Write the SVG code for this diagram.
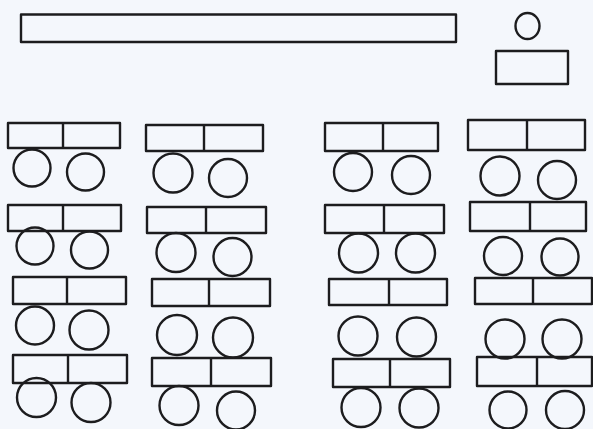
<svg xmlns="http://www.w3.org/2000/svg" width="593" height="429" viewBox="0 0 593 429">
<style>
.s{fill:none;stroke:#1c1c1e;stroke-width:2.4;stroke-linejoin:round}
</style>
<rect width="593" height="429" fill="#f4f7fc"/>
<g id="board"><rect class="s" x="21" y="14.5" width="435" height="27.5"/></g>
<g id="teacher"><ellipse class="s" cx="527.5" cy="26" rx="12" ry="13"/><rect class="s" x="496" y="51" width="72" height="33"/></g>
<g id="g1"><rect class="s" x="8" y="123" width="112" height="25"/><line class="s" x1="63" y1="123" x2="63" y2="148"/><circle class="s" cx="32" cy="168" r="18.5"/><circle class="s" cx="85.5" cy="172" r="18.5"/></g>
<g id="g2"><rect class="s" x="146" y="125" width="117" height="26"/><line class="s" x1="204" y1="125" x2="204" y2="151"/><circle class="s" cx="173" cy="173" r="19.5"/><circle class="s" cx="228" cy="178" r="19"/></g>
<g id="g3"><rect class="s" x="325" y="123" width="113" height="28"/><line class="s" x1="383" y1="123" x2="383" y2="151"/><circle class="s" cx="353" cy="172" r="19"/><circle class="s" cx="411" cy="175" r="19"/></g>
<g id="g4"><rect class="s" x="468" y="120" width="117" height="30"/><line class="s" x1="527" y1="120" x2="527" y2="150"/><circle class="s" cx="500" cy="176" r="19.5"/><circle class="s" cx="557" cy="180" r="19"/></g>
<g id="g5"><rect class="s" x="8" y="205" width="113" height="26"/><line class="s" x1="63" y1="205" x2="63" y2="231"/><circle class="s" cx="35" cy="246" r="18.5"/><circle class="s" cx="89.5" cy="250" r="18.5"/></g>
<g id="g6"><rect class="s" x="147" y="207" width="119" height="26"/><line class="s" x1="206" y1="207" x2="206" y2="233"/><circle class="s" cx="176" cy="252.5" r="19.5"/><circle class="s" cx="232.5" cy="257" r="19"/></g>
<g id="g7"><rect class="s" x="325" y="205" width="119" height="28"/><line class="s" x1="384" y1="205" x2="384" y2="233"/><circle class="s" cx="358.5" cy="253" r="19.5"/><circle class="s" cx="415.5" cy="253" r="19.5"/></g>
<g id="g8"><rect class="s" x="470" y="202" width="116" height="29"/><line class="s" x1="530" y1="202" x2="530" y2="231"/><circle class="s" cx="503" cy="256" r="19"/><circle class="s" cx="560" cy="257" r="18.5"/></g>
<g id="g9"><rect class="s" x="13" y="277" width="113" height="27"/><line class="s" x1="67" y1="277" x2="67" y2="304"/><circle class="s" cx="35" cy="325.5" r="19"/><circle class="s" cx="89" cy="330" r="19.5"/></g>
<g id="g10"><rect class="s" x="152" y="279" width="118" height="27"/><line class="s" x1="209" y1="279" x2="209" y2="306"/><circle class="s" cx="177" cy="335" r="20"/><circle class="s" cx="233" cy="337.5" r="20"/></g>
<g id="g11"><rect class="s" x="329" y="279" width="118" height="26"/><line class="s" x1="389" y1="279" x2="389" y2="305"/><circle class="s" cx="358" cy="336" r="19.5"/><circle class="s" cx="416.5" cy="337" r="19.5"/></g>
<g id="g12"><rect class="s" x="475" y="278" width="117" height="26"/><line class="s" x1="533" y1="278" x2="533" y2="304"/><circle class="s" cx="505" cy="339" r="19.5"/><circle class="s" cx="562" cy="339" r="19.5"/></g>
<g id="g13"><rect class="s" x="13" y="355" width="114" height="28"/><line class="s" x1="68" y1="355" x2="68" y2="383"/><circle class="s" cx="36.5" cy="397.5" r="19.5"/><circle class="s" cx="91" cy="402.5" r="19.5"/></g>
<g id="g14"><rect class="s" x="152" y="358" width="119" height="28"/><line class="s" x1="211" y1="358" x2="211" y2="386"/><circle class="s" cx="179" cy="405.5" r="19.5"/><circle class="s" cx="236" cy="410.5" r="19"/></g>
<g id="g15"><rect class="s" x="333" y="359" width="117" height="28"/><line class="s" x1="390" y1="359" x2="390" y2="387"/><circle class="s" cx="361" cy="407.5" r="19.5"/><circle class="s" cx="419" cy="408" r="19.5"/></g>
<g id="g16"><rect class="s" x="477" y="357" width="115" height="29"/><line class="s" x1="537" y1="357" x2="537" y2="386"/><circle class="s" cx="508" cy="410" r="18.5"/><circle class="s" cx="565" cy="410" r="19"/></g>
</svg>
